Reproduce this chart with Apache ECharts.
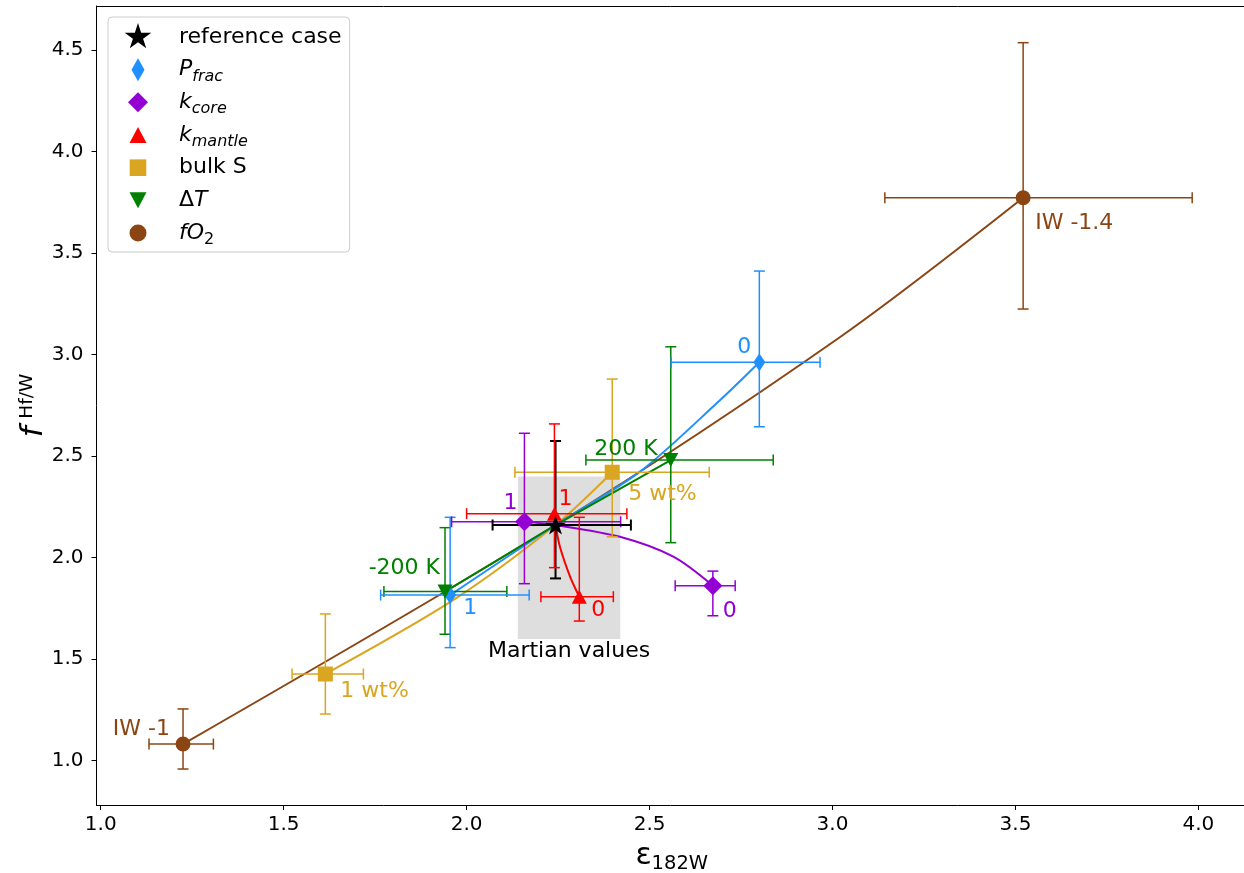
<!DOCTYPE html>
<html><head><meta charset="utf-8">
<script src="https://cdn.jsdelivr.net/npm/echarts@6/dist/echarts.min.js"></script>
<style>html,body{margin:0;padding:0;background:#fff}#c{width:1244px;height:873px}</style>
</head><body><div id="c"></div>
<script>
const FONT = 'DejaVu Sans';
// ---------- data ----------
const xTicks = [1.0, 1.5, 2.0, 2.5, 3.0, 3.5, 4.0];
const yTicks = [1.0, 1.5, 2.0, 2.5, 3.0, 3.5, 4.0, 4.5];

// reference case
const refX = [2.243], refY = [2.161];
const refXLo = [2.071], refXHi = [2.449], refYLo = [1.898], refYHi = [2.575];

// P_frac
const pfracLabels = ['1', '0'];
const pfracX = [1.955, 2.800], pfracY = [1.816, 2.963];
const pfracXLo = [1.765, 2.559], pfracXHi = [2.171, 2.966];
const pfracYLo = [1.557, 2.645], pfracYHi = [2.199, 3.412];
const pfracCurveX = [1.955, 2.243, 2.474, 2.693, 2.800];
const pfracCurveY = [1.816, 2.161, 2.424, 2.777, 2.963];

// k_core
const kcoreLabels = ['1', '0'];
const kcoreX = [2.158, 2.673], kcoreY = [2.177, 1.862];
const kcoreXLo = [1.959, 2.570], kcoreXHi = [2.421, 2.734];
const kcoreYLo = [1.872, 1.714], kcoreYHi = [2.613, 1.934];
const kcoreCurveX = [2.158, 2.243, 2.419, 2.565, 2.673];
const kcoreCurveY = [2.177, 2.161, 2.103, 2.005, 1.862];

// k_mantle
const kmantleLabels = ['1', '0'];
const kmantleX = [2.240, 2.308], kmantleY = [2.217, 1.808];
const kmantleXLo = [2.000, 2.203], kmantleXHi = [2.438, 2.401];
const kmantleYLo = [1.951, 1.688], kmantleYHi = [2.659, 2.199];
const kmantleCurveX = [2.240, 2.243, 2.255, 2.283, 2.308];
const kmantleCurveY = [2.217, 2.161, 2.054, 1.906, 1.808];

// bulk S
const bulkSLabels = ['5 wt%', '1 wt%'];
const bulkSX = [2.398, 1.614], bulkSY = [2.421, 1.427];
const bulkSXLo = [2.132, 1.523], bulkSXHi = [2.663, 1.718];
const bulkSYLo = [2.103, 1.230], bulkSYHi = [2.880, 1.723];
const bulkSCurveX = [1.614, 1.964, 2.243, 2.398];
const bulkSCurveY = [1.427, 1.792, 2.161, 2.421];

// Delta T
const dTLabels = ['200 K', '-200 K'];
const dTX = [2.558, 1.941], dTY = [2.481, 1.833];
const dTXLo = [2.326, 1.774], dTXHi = [2.838, 2.110];
const dTYLo = [2.074, 1.623], dTYHi = [3.039, 2.148];
const dTCurveX = [1.941, 2.243, 2.558];
const dTCurveY = [1.833, 2.161, 2.481];

// fO2
const fO2Labels = ['IW -1.4', 'IW -1'];
const fO2X = [3.521, 1.225], fO2Y = [3.773, 1.082];
const fO2XLo = [3.143, 1.132], fO2XHi = [3.983, 1.308];
const fO2YLo = [3.225, 0.959], fO2YHi = [4.537, 1.255];
const fO2CurveX = [1.225, 2.243, 3.020, 3.521];
const fO2CurveY = [1.082, 2.161, 3.086, 3.773];

// Martian values box [xmin, xmax, ymin, ymax]
const martianBox = [2.14, 2.42, 1.60, 2.40];

// ---------- styles ----------
const C = {ref:'#000000', pfrac:'#1E90FF', kcore:'#9400D3', kmantle:'#FF0000', bulkS:'#DAA520', dT:'#008000', fO2:'#8B4513'};
const labelPos = {
  pfrac:   [{offset:[20,13], align:'center'}, {offset:[-15,-15], align:'center'}],
  kcore:   [{offset:[-14,-18], align:'center'}, {offset:[17,26], align:'center'}],
  kmantle: [{offset:[11,-14], align:'center'}, {offset:[19,14], align:'center'}],
  bulkS:   [{offset:[16,22], align:'left'}, {offset:[15,17], align:'left'}],
  dT:      [{offset:[-13,-11], align:'right'}, {offset:[-5,-23], align:'right'}],
  fO2:     [{offset:[12,26], align:'left'}, {offset:[-13,-15], align:'right'}]
};

function starPts(cx, cy, R){
  const pts=[];
  for(let i=0;i<10;i++){
    const r = i%2===0 ? R : R*0.381966;
    const a = Math.PI/2 + i*Math.PI/5;
    pts.push((cx + r*Math.cos(a)).toFixed(3)+','+(cy - r*Math.sin(a)).toFixed(3));
  }
  return 'M'+pts.join(' L')+' Z';
}
const starSymbol = 'path://' + starPts(0,0,10);
const frame = 'M0,0 M51,30 ';
const legendIcons = {
  'reference case': 'path://' + frame + starPts(15,15,14),
  'P_frac': 'path://' + frame + 'M15,3.5 L21.5,15 L15,26.5 L8.5,15 Z',
  'k_core': 'path://' + frame + 'M15,5 L25,15 L15,25 L5,15 Z',
  'k_mantle': 'path://' + frame + 'M15,7 L23.5,23 L6.5,23 Z',
  'bulk S': 'path://' + frame + 'M6.7,6.7 L23.3,6.7 L23.3,23.3 L6.7,23.3 Z',
  'ΔT': 'path://' + frame + 'M6.5,7 L23.5,7 L15,23 Z',
  'fO2': 'path://' + frame + 'M6.5,15 A8.5,8.5 0 1,0 23.5,15 A8.5,8.5 0 1,0 6.5,15 Z'
};
const legendRich = {
  'reference case': '{n|reference case}',
  'P_frac': '{i|P}{sub|frac}',
  'k_core': '{i|k}{sub|core}',
  'k_mantle': '{i|k}{sub|mantle}',
  'bulk S': '{n|bulk S}',
  'ΔT': '{n|Δ}{i|T}',
  'fO2': '{i|fO}{subn|2}'
};

function errSeries(id, color, xs, ys, xlo, xhi, ylo, yhi, lw, z){
  return {
    type:'custom', id:id, name:id, z:z, silent:true, clip:false,
    data: xs.map((x,i)=>[x, ys[i], xlo[i], xhi[i], ylo[i], yhi[i]]),
    encode:{x:[0,2,3], y:[1,4,5]},
    renderItem(params, api){
      const c = api.coord([api.value(0), api.value(1)]);
      const l = api.coord([api.value(2), api.value(1)]);
      const r = api.coord([api.value(3), api.value(1)]);
      const b = api.coord([api.value(0), api.value(4)]);
      const t = api.coord([api.value(0), api.value(5)]);
      const h = 5.5;
      const st = {stroke: color, lineWidth: lw, fill: null};
      const L = (x1,y1,x2,y2)=>({type:'line', shape:{x1,y1,x2,y2}, style:st});
      return {type:'group', children:[
        L(l[0],c[1],r[0],c[1]), L(l[0],c[1]-h,l[0],c[1]+h), L(r[0],c[1]-h,r[0],c[1]+h),
        L(c[0],b[1],c[0],t[1]), L(c[0]-h,b[1],c[0]+h,b[1]), L(c[0]-h,t[1],c[0]+h,t[1])
      ]};
    }
  };
}
function curveSeries(id, color, xs, ys, smooth){
  return {type:'line', id:id+'_curve', name:id+'_curve', z:2, silent:true, symbol:'none', smooth:smooth,
    data: xs.map((x,i)=>[x, ys[i]]), lineStyle:{color:color, width:2}};
}
function pointSeries(name, key, color, xs, ys, labels, symbol, size, rotate){
  return {type:'scatter', name:name, z:4, symbol:symbol, symbolSize:size, symbolRotate:rotate||0,
    itemStyle:{color:color, opacity:1},
    data: xs.map((x,i)=>({value:[x, ys[i]], label:{show:true, position:'inside', formatter:labels[i],
      offset:labelPos[key][i].offset, align:labelPos[key][i].align, verticalAlign:'middle',
      color:color, fontSize:22, fontFamily:FONT}}))
  };
}

const series = [
  {type:'scatter', name:'martian', z:0, silent:true, data:[],
    markArea:{silent:true, itemStyle:{color:'#dedede'},
      label:{show:true, position:'bottom', distance:1, formatter:'Martian values', color:'#000', fontSize:22, fontFamily:FONT},
      data:[[{xAxis:martianBox[0], yAxis:martianBox[2]}, {xAxis:martianBox[1], yAxis:martianBox[3]}]]}},
  curveSeries('fO2', C.fO2, fO2CurveX, fO2CurveY, 0.3),
  curveSeries('bulkS', C.bulkS, bulkSCurveX, bulkSCurveY, 0.3),
  curveSeries('pfrac', C.pfrac, pfracCurveX, pfracCurveY, 0.3),
  curveSeries('kcore', C.kcore, kcoreCurveX, kcoreCurveY, 0.3),
  curveSeries('kmantle', C.kmantle, kmantleCurveX, kmantleCurveY, 0.3),
  curveSeries('dT', C.dT, dTCurveX, dTCurveY, false),
  errSeries('fO2_err', C.fO2, fO2X, fO2Y, fO2XLo, fO2XHi, fO2YLo, fO2YHi, 1.5, 3),
  errSeries('bulkS_err', C.bulkS, bulkSX, bulkSY, bulkSXLo, bulkSXHi, bulkSYLo, bulkSYHi, 1.5, 3),
  errSeries('dT_err', C.dT, dTX, dTY, dTXLo, dTXHi, dTYLo, dTYHi, 1.5, 3),
  errSeries('pfrac_err', C.pfrac, pfracX, pfracY, pfracXLo, pfracXHi, pfracYLo, pfracYHi, 1.5, 3),
  errSeries('kcore_err', C.kcore, kcoreX, kcoreY, kcoreXLo, kcoreXHi, kcoreYLo, kcoreYHi, 1.5, 3),
  errSeries('ref_err', C.ref, refX, refY, refXLo, refXHi, refYLo, refYHi, 2, 3),
  errSeries('kmantle_err', C.kmantle, kmantleX, kmantleY, kmantleXLo, kmantleXHi, kmantleYLo, kmantleYHi, 1.5, 3),
  pointSeries('P_frac', 'pfrac', C.pfrac, pfracX, pfracY, pfracLabels, 'diamond', [12,18]),
  pointSeries('k_core', 'kcore', C.kcore, kcoreX, kcoreY, kcoreLabels, 'diamond', [19,19]),
  pointSeries('k_mantle', 'kmantle', C.kmantle, kmantleX, kmantleY, kmantleLabels, 'triangle', [15,14]),
  pointSeries('bulk S', 'bulkS', C.bulkS, bulkSX, bulkSY, bulkSLabels, 'rect', [15,15]),
  pointSeries('ΔT', 'dT', C.dT, dTX, dTY, dTLabels, 'triangle', [15,14], 180),
  pointSeries('fO2', 'fO2', C.fO2, fO2X, fO2Y, fO2Labels, 'circle', 15),
  {type:'scatter', name:'reference case', z:6, symbol:starSymbol, symbolSize:[21,20], symbolKeepAspect:true,
    itemStyle:{color:'#000', opacity:1}, data: refX.map((x,i)=>[x, refY[i]])}
];

const legendNames = ['reference case','P_frac','k_core','k_mantle','bulk S','ΔT','fO2'];

const chart = echarts.init(document.getElementById('c'), null, {renderer:'canvas'});
chart.setOption({
  animation:false,
  backgroundColor:'#fff',
  textStyle:{fontFamily:FONT},
  grid:{left:96.5, right:-3, top:6, bottom:68, show:false, containLabel:false, outerBoundsMode:'none'},
  xAxis:[{type:'value', min:0.9885, max:4.1328,
    axisLine:{show:true, lineStyle:{color:'#000', width:1}},
    axisTick:{show:true, length:5, lineStyle:{color:'#000'}, customValues:xTicks},
    axisLabel:{show:true, color:'#000', fontSize:20, fontFamily:FONT, margin:10, customValues:xTicks, formatter:v=>v.toFixed(1)},
    splitLine:{show:false},
    name:'{e|ε}{s|182W}', nameLocation:'middle', nameGap:33, nameMoveOverlap:false,
    nameTextStyle:{color:'#000', rich:{
      e:{fontSize:30, fontFamily:FONT, color:'#000', lineHeight:36},
      s:{fontSize:19.5, fontFamily:FONT, color:'#000', lineHeight:36, verticalAlign:'bottom'}}}
  },{type:'value', position:'top', min:0.9885, max:4.1328,
    axisLine:{show:true, onZero:false, lineStyle:{color:'#000', width:1}},
    axisTick:{show:false}, axisLabel:{show:false}, splitLine:{show:false}}],
  yAxis:{type:'value', min:0.7818, max:4.7177,
    axisLine:{show:true, lineStyle:{color:'#000', width:1}},
    axisTick:{show:true, length:5, lineStyle:{color:'#000'}, customValues:yTicks},
    axisLabel:{show:true, color:'#000', fontSize:20, fontFamily:FONT, margin:13, customValues:yTicks, formatter:v=>v.toFixed(1)},
    splitLine:{show:false},
    name:'{f|f}  {s|Hf/W}', nameLocation:'middle', nameGap:47, nameMoveOverlap:false,
    nameTextStyle:{color:'#000', rich:{
      f:{fontSize:31, fontFamily:FONT, fontStyle:'italic', color:'#000', lineHeight:32},
      s:{fontSize:18.5, fontFamily:FONT, color:'#000', lineHeight:32, verticalAlign:'top'}}}
  },
  legend:{
    orient:'vertical', left:108, top:17, padding:[5,8,4,15],
    itemWidth:51, itemHeight:30, itemGap:2.67,
    borderColor:'#cccccc', borderWidth:1, borderRadius:4, backgroundColor:'rgba(255,255,255,0.85)',
    symbolKeepAspect:true, selectedMode:false,
    data: legendNames.map(n=>({name:n, icon:legendIcons[n]})),
    formatter: n => legendRich[n],
    textStyle:{color:'#000', fontSize:22, fontFamily:FONT, rich:{
      n:{fontSize:22, fontFamily:FONT, color:'#000', lineHeight:30},
      i:{fontSize:22, fontFamily:FONT, fontStyle:'italic', color:'#000', lineHeight:30},
      sub:{fontSize:16, fontFamily:FONT, fontStyle:'italic', color:'#000', lineHeight:30, verticalAlign:'bottom'},
      subn:{fontSize:16, fontFamily:FONT, color:'#000', lineHeight:30, verticalAlign:'bottom'}}}
  },
  series: series
});
</script></body></html>
